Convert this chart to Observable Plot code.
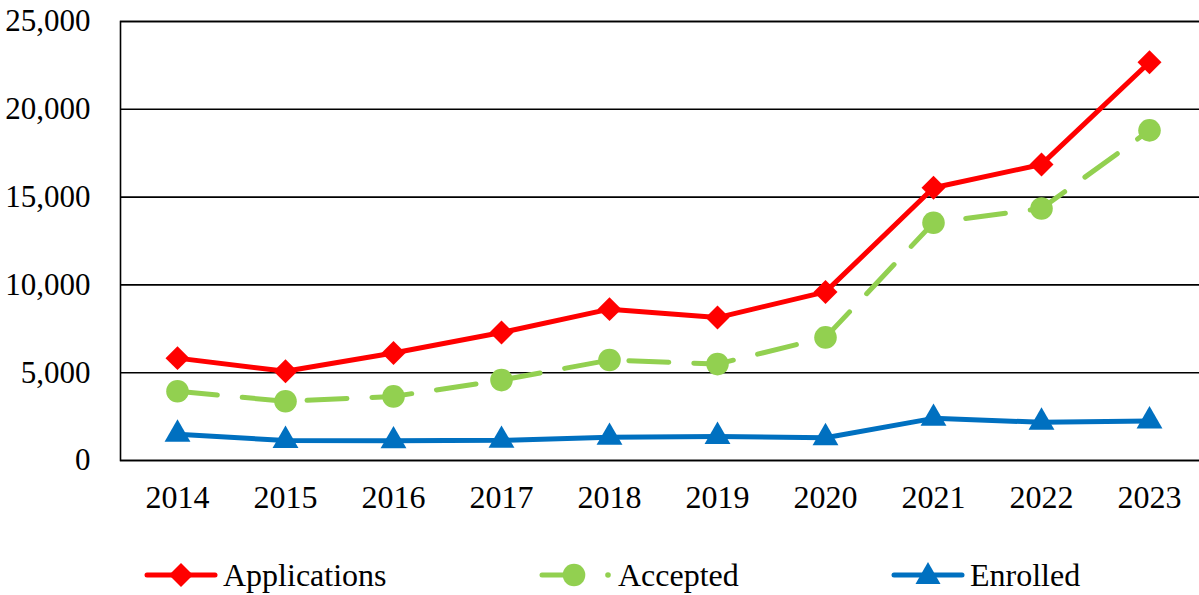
<!DOCTYPE html>
<html>
<head>
<meta charset="utf-8">
<script src="https://cdn.jsdelivr.net/npm/d3@7"></script>
<script src="https://cdn.jsdelivr.net/npm/@observablehq/plot@0.6"></script>
<style>
  html, body { margin: 0; padding: 0; background: white; overflow: hidden; }
  #chart { position: relative; width: 1199px; height: 595px; font-family: "Liberation Serif", "Times New Roman", serif; }
  .legend { position: absolute; top: 530px; left: 0; width: 1199px; height: 65px; }
  .item { position: absolute; top: 28px; display: flex; align-items: center; font-size: 32px; color: black; height: 34px; }
  .item svg { display: block; }
  .item span { margin-left: 4px; }
</style>
</head>
<body>
<div id="chart"></div>
<script>
const years = ["2014","2015","2016","2017","2018","2019","2020","2021","2022","2023"];
const applications = [5830, 5080, 6120, 7290, 8620, 8140, 9600, 15530, 16860, 22680];
const accepted = [3940, 3370, 3650, 4580, 5720, 5490, 7010, 13540, 14350, 18800];
const enrolled = [1500, 1140, 1120, 1150, 1320, 1370, 1300, 2400, 2180, 2250];
const yTicks = [0, 5000, 10000, 15000, 20000, 25000];
const seriesNames = ["Applications", "Accepted", "Enrolled"];
const colors = ["#FF0000", "#92D050", "#0070C0"];

const toRows = (vals) => years.map((y, i) => ({year: y, value: vals[i]}));
const appRows = toRows(applications);
const accRows = toRows(accepted);
const enrRows = toRows(enrolled);

const plot = Plot.plot({
  width: 1199,
  height: 530,
  marginLeft: 120,
  marginRight: -7,
  marginTop: 21,
  marginBottom: 70,
  style: {fontFamily: "'Liberation Serif', 'Times New Roman', serif", fontSize: "32px", color: "black", background: "white"},
  x: {type: "point", domain: years, padding: 0.5, label: null},
  y: {domain: [0, 25000], label: null},
  marks: [
    Plot.ruleY(yTicks, {stroke: "black", strokeWidth: 1.6}),
    Plot.frame({stroke: "black", strokeWidth: 1.6}),
    Plot.axisY({ticks: yTicks, tickSize: 0, tickPadding: 30, tickFormat: d3.format(","), label: null, fontSize: 31}),
    Plot.axisX({tickSize: 0, tickPadding: 25, label: null, fontSize: 32}),
    Plot.line(appRows, {x: "year", y: "value", stroke: colors[0], strokeWidth: 5}),
    Plot.line(accRows, {x: "year", y: "value", stroke: colors[1], strokeWidth: 5, strokeDasharray: "40,25", strokeLinecap: "round"}),
    Plot.line(enrRows, {x: "year", y: "value", stroke: colors[2], strokeWidth: 5}),
    Plot.dot(appRows, {x: "year", y: "value", symbol: "diamond2", r: 10.8, fill: colors[0], stroke: "none"}),
    Plot.dot(accRows, {x: "year", y: "value", symbol: "circle", r: 11.3, fill: colors[1], stroke: "none"}),
    Plot.dot(enrRows, {x: "year", y: "value", symbol: "triangle", r: 9.6, fill: colors[2], stroke: "none"})
  ]
});

const chart = document.getElementById("chart");
chart.appendChild(plot);

const legend = document.createElement("div");
legend.className = "legend";
const swatches = [
  `<svg width="76" height="34"><line x1="4" y1="17" x2="72" y2="17" stroke="${colors[0]}" stroke-width="5" stroke-linecap="round"/><path d="M38,5 L50,17 L38,29 L26,17Z" fill="${colors[0]}"/></svg>`,
  `<svg width="76" height="34"><line x1="4" y1="17" x2="36" y2="17" stroke="${colors[1]}" stroke-width="5" stroke-linecap="round"/><circle cx="36" cy="17" r="11.3" fill="${colors[1]}"/><circle cx="70" cy="17" r="2.8" fill="${colors[1]}"/></svg>`,
  `<svg width="76" height="34"><line x1="4" y1="17" x2="72" y2="17" stroke="${colors[2]}" stroke-width="5" stroke-linecap="round"/><path d="M38,4 L50.5,26 L25.5,26Z" fill="${colors[2]}"/></svg>`
];
const lefts = [143, 538, 890];
seriesNames.forEach((name, i) => {
  const it = document.createElement("div");
  it.className = "item";
  it.style.left = lefts[i] + "px";
  it.innerHTML = swatches[i] + `<span>${name}</span>`;
  legend.appendChild(it);
});
chart.appendChild(legend);
</script>
</body>
</html>
